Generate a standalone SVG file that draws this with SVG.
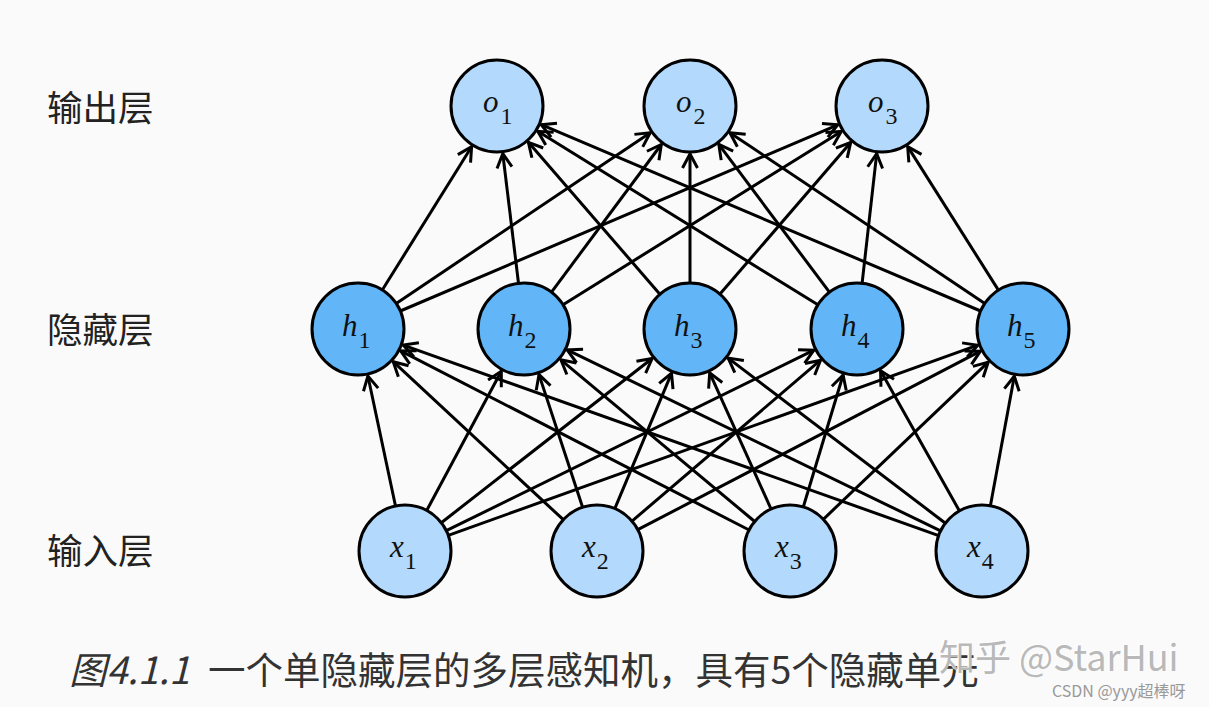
<svg xmlns="http://www.w3.org/2000/svg" width="1209" height="707" viewBox="0 0 1209 707">
<style>
.bg{fill:#fafafa}
.out,.inp{fill:#b3d9fc;stroke:#000;stroke-width:3}
.hid{fill:#62b6f7;stroke:#000;stroke-width:3}
.edge{stroke:#000;stroke-width:3;fill:none;marker-end:url(#arr)}
.lbl{font-family:"Liberation Serif","DejaVu Serif",serif;font-style:italic;font-size:31px;fill:#111}
.sub{font-style:normal;font-size:24px}
.layer{font-family:"Noto Sans CJK SC","Noto Sans",sans-serif;font-size:35.5px;fill:#222}
.cap{font-family:"Noto Sans CJK SC","Noto Sans",sans-serif;font-size:37.5px;fill:#333}
.wm{font-family:"Noto Sans CJK SC","Roboto",sans-serif;font-size:36px}
.csdn{font-family:"Noto Sans CJK SC","Roboto",sans-serif;font-size:16px;fill:#999}
</style>
<defs>
<marker id="arr" markerUnits="userSpaceOnUse" markerWidth="18" markerHeight="18" viewBox="-16 -9 18 18" refX="0" refY="0" orient="auto" overflow="visible">
<path d="M-14,-7.5 L0,0 L-14,7.5" fill="none" stroke="#000" stroke-width="3"/>
</marker>
</defs>
<rect class="bg" x="0" y="0" width="1209" height="707"/>
<g id="connectors">
<line class="edge" x1="395.5" y1="506.0" x2="367.9" y2="376.0"/>
<line class="edge" x1="426.7" y1="510.5" x2="501.3" y2="371.3"/>
<line class="edge" x1="441.3" y1="522.7" x2="652.1" y2="358.5"/>
<line class="edge" x1="446.3" y1="530.7" x2="813.9" y2="350.2"/>
<line class="edge" x1="448.3" y1="535.4" x2="977.8" y2="345.2"/>
<line class="edge" x1="563.3" y1="519.7" x2="393.2" y2="361.7"/>
<line class="edge" x1="582.6" y1="507.3" x2="539.0" y2="374.6"/>
<line class="edge" x1="614.8" y1="508.6" x2="671.5" y2="373.3"/>
<line class="edge" x1="632.0" y1="521.1" x2="820.5" y2="360.2"/>
<line class="edge" x1="637.8" y1="529.7" x2="980.4" y2="351.2"/>
<line class="edge" x1="749.1" y1="530.0" x2="400.7" y2="350.9"/>
<line class="edge" x1="754.7" y1="521.5" x2="560.9" y2="359.8"/>
<line class="edge" x1="771.1" y1="509.1" x2="709.7" y2="372.8"/>
<line class="edge" x1="803.3" y1="507.0" x2="843.1" y2="375.0"/>
<line class="edge" x1="823.3" y1="519.3" x2="988.2" y2="362.1"/>
<line class="edge" x1="938.7" y1="535.6" x2="403.2" y2="345.1"/>
<line class="edge" x1="940.6" y1="530.9" x2="567.2" y2="349.9"/>
<line class="edge" x1="945.4" y1="523.2" x2="728.2" y2="358.1"/>
<line class="edge" x1="959.4" y1="510.9" x2="880.6" y2="370.8"/>
<line class="edge" x1="990.4" y1="505.8" x2="1014.3" y2="376.2"/>
<line class="edge" x1="382.3" y1="290.0" x2="471.6" y2="146.7"/>
<line class="edge" x1="396.2" y1="303.4" x2="650.2" y2="132.8"/>
<line class="edge" x1="400.3" y1="311.0" x2="837.8" y2="124.8"/>
<line class="edge" x1="518.5" y1="283.3" x2="502.8" y2="153.7"/>
<line class="edge" x1="551.5" y1="292.1" x2="661.3" y2="144.5"/>
<line class="edge" x1="563.0" y1="304.7" x2="841.3" y2="131.4"/>
<line class="edge" x1="659.9" y1="294.2" x2="528.4" y2="142.3"/>
<line class="edge" x1="690" y1="283" x2="690" y2="154"/>
<line class="edge" x1="720.0" y1="294.1" x2="850.7" y2="142.4"/>
<line class="edge" x1="817.9" y1="304.8" x2="537.8" y2="131.3"/>
<line class="edge" x1="829.4" y1="292.2" x2="718.8" y2="144.4"/>
<line class="edge" x1="862.1" y1="283.3" x2="876.7" y2="153.7"/>
<line class="edge" x1="980.6" y1="311.0" x2="541.2" y2="124.7"/>
<line class="edge" x1="984.8" y1="303.4" x2="729.9" y2="132.7"/>
<line class="edge" x1="998.4" y1="290.1" x2="907.7" y2="146.6"/>
</g>
<g id="o1"><circle class="out" cx="497" cy="106" r="46"/><text class="lbl" x="483" y="112">o<tspan class="sub" dx="2" dy="12">1</tspan></text></g>
<g id="o2"><circle class="out" cx="690" cy="106" r="46"/><text class="lbl" x="676" y="112">o<tspan class="sub" dx="2" dy="12">2</tspan></text></g>
<g id="o3"><circle class="out" cx="882" cy="106" r="46"/><text class="lbl" x="868" y="112">o<tspan class="sub" dx="2" dy="12">3</tspan></text></g>
<g id="h1"><circle class="hid" cx="358" cy="329" r="46"/><text class="lbl" x="342" y="336">h<tspan class="sub" dx="1" dy="12">1</tspan></text></g>
<g id="h2"><circle class="hid" cx="524" cy="329" r="46"/><text class="lbl" x="508" y="336">h<tspan class="sub" dx="1" dy="12">2</tspan></text></g>
<g id="h3"><circle class="hid" cx="690" cy="329" r="46"/><text class="lbl" x="674" y="336">h<tspan class="sub" dx="1" dy="12">3</tspan></text></g>
<g id="h4"><circle class="hid" cx="857" cy="329" r="46"/><text class="lbl" x="841" y="336">h<tspan class="sub" dx="1" dy="12">4</tspan></text></g>
<g id="h5"><circle class="hid" cx="1023" cy="329" r="46"/><text class="lbl" x="1007" y="336">h<tspan class="sub" dx="1" dy="12">5</tspan></text></g>
<g id="x1"><circle class="inp" cx="405" cy="551" r="46"/><text class="lbl" x="390" y="557">x<tspan class="sub" dx="1" dy="12">1</tspan></text></g>
<g id="x2"><circle class="inp" cx="597" cy="551" r="46"/><text class="lbl" x="582" y="557">x<tspan class="sub" dx="1" dy="12">2</tspan></text></g>
<g id="x3"><circle class="inp" cx="790" cy="551" r="46"/><text class="lbl" x="775" y="557">x<tspan class="sub" dx="1" dy="12">3</tspan></text></g>
<g id="x4"><circle class="inp" cx="982" cy="551" r="46"/><text class="lbl" x="967" y="557">x<tspan class="sub" dx="1" dy="12">4</tspan></text></g>
<g id="layer-labels">
<text class="layer" x="47" y="121">输出层</text>
<text class="layer" x="47" y="343">隐藏层</text>
<text class="layer" x="47" y="564">输入层</text>
</g>
<g id="caption">
<text class="cap" x="69" y="684"><tspan font-style="italic">图4.1.1</tspan><tspan x="208">一个单隐藏层的多层感知机，具有5个隐藏单元</tspan></text>
</g>
<g id="watermark">
<text class="wm" x="939" y="671" fill="#ffffff" transform="translate(-1.5,-1.5)">知乎 @StarHui</text>
<text class="wm" x="939" y="671" fill="#b9b9b9">知乎 @StarHui</text>
<text class="csdn" x="1052" y="697">CSDN @yyy超棒呀</text>
</g>
</svg>
